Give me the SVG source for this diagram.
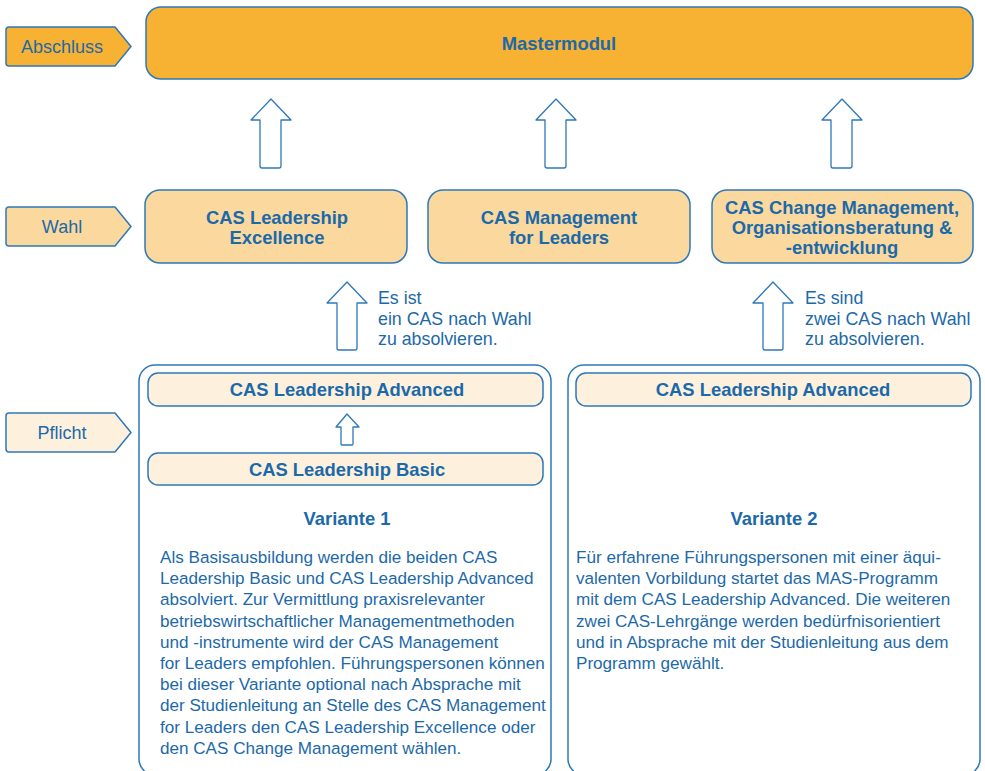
<svg xmlns="http://www.w3.org/2000/svg" width="985" height="771" viewBox="0 0 985 771">
<style>
.bg{fill:#ffffff}
.stroke{stroke:#2e78b8;stroke-width:1.5;stroke-linejoin:round}
.orange{fill:#f7b234}
.light{fill:#fbd99e}
.pale{fill:#fdf1de}
.white{fill:#ffffff}
text{font-family:"Liberation Sans",Arial,Helvetica,sans-serif;fill:#1c69a9}
.b{font-weight:bold;font-size:18.4px}
.tag{font-size:18px}
.note{font-size:17.8px}
.para{font-size:17.1px}
.mid{text-anchor:middle}
.arrow{fill:#ffffff;stroke:#2e78b8;stroke-width:1.3;stroke-linejoin:round}
</style>
<rect class="bg" x="0" y="0" width="985" height="771"/>

<g id="tag-abschluss">
<path class="orange stroke" d="M9,27 H115 L131,46.5 L115,66 H9 Q6,66 6,63 V30 Q6,27 9,27 Z"/>
<text class="tag mid" x="62" y="52.5">Abschluss</text>
</g>
<g id="tag-wahl">
<path class="light stroke" d="M9,207 H115 L131,226.5 L115,246 H9 Q6,246 6,243 V210 Q6,207 9,207 Z"/>
<text class="tag mid" x="62" y="232.5">Wahl</text>
</g>
<g id="tag-pflicht">
<path class="pale stroke" d="M9,413 H115 L131,432.5 L115,452 H9 Q6,452 6,449 V416 Q6,413 9,413 Z"/>
<text class="tag mid" x="62" y="438.5">Pflicht</text>
</g>

<g id="mastermodul">
<rect class="orange stroke" x="146" y="7" width="827" height="72" rx="15"/>
<text class="b mid" x="559" y="49.5">Mastermodul</text>
</g>

<g id="cas-leadership-excellence">
<rect class="light stroke" x="145" y="190" width="262" height="73" rx="15"/>
<text class="b mid" x="277" y="224">CAS Leadership</text>
<text class="b mid" x="277" y="244">Excellence</text>
</g>
<g id="cas-management-for-leaders">
<rect class="light stroke" x="428" y="190" width="262" height="73" rx="15"/>
<text class="b mid" x="559" y="224">CAS Management</text>
<text class="b mid" x="559" y="244">for Leaders</text>
</g>
<g id="cas-change-management">
<rect class="light stroke" x="712" y="190" width="261" height="73" rx="15"/>
<text class="b mid" x="842" y="213.5">CAS Change Management,</text>
<text class="b mid" x="842" y="233.5">Organisationsberatung &amp;</text>
<text class="b mid" x="842" y="253.5">-entwicklung</text>
</g>

<g id="variante-1">
<rect class="white stroke" x="139" y="365" width="412" height="410" rx="16"/>
<text class="b mid" x="347" y="525">Variante 1</text>
<text class="para" x="160">
<tspan x="160" y="563">Als Basisausbildung werden die beiden CAS</tspan>
<tspan x="160" y="584.2">Leadership Basic und CAS Leadership Advanced</tspan>
<tspan x="160" y="605.4">absolviert. Zur Vermittlung praxisrelevanter</tspan>
<tspan x="160" y="626.6">betriebswirtschaftlicher Managementmethoden</tspan>
<tspan x="160" y="647.8">und -instrumente wird der CAS Management</tspan>
<tspan x="160" y="669">for Leaders empfohlen. Führungspersonen können</tspan>
<tspan x="160" y="690.2">bei dieser Variante optional nach Absprache mit</tspan>
<tspan x="160" y="711.4">der Studienleitung an Stelle des CAS Management</tspan>
<tspan x="160" y="732.6">for Leaders den CAS Leadership Excellence oder</tspan>
<tspan x="160" y="753.8">den CAS Change Management wählen.</tspan>
</text>
</g>
<g id="v1-cas-leadership-advanced">
<rect class="pale stroke" x="148" y="373" width="395" height="33" rx="10"/>
<text class="b mid" x="347" y="396">CAS Leadership Advanced</text>
</g>
<g id="v1-cas-leadership-basic">
<rect class="pale stroke" x="148" y="453" width="395" height="32" rx="10"/>
<text class="b mid" x="347" y="476">CAS Leadership Basic</text>
</g>

<g id="variante-2">
<rect class="white stroke" x="568" y="365" width="412" height="410" rx="16"/>
<text class="b mid" x="774" y="525">Variante 2</text>
<text class="para" x="576">
<tspan x="576" y="563">Für erfahrene Führungspersonen mit einer äqui-</tspan>
<tspan x="576" y="584.2">valenten Vorbildung startet das MAS-Programm</tspan>
<tspan x="576" y="605.4">mit dem CAS Leadership Advanced. Die weiteren</tspan>
<tspan x="576" y="626.6">zwei CAS-Lehrgänge werden bedürfnisorientiert</tspan>
<tspan x="576" y="647.8">und in Absprache mit der Studienleitung aus dem</tspan>
<tspan x="576" y="669">Programm gewählt.</tspan>
</text>
</g>
<g id="v2-cas-leadership-advanced">
<rect class="pale stroke" x="576" y="373" width="395" height="33" rx="10"/>
<text class="b mid" x="773" y="396">CAS Leadership Advanced</text>
</g>

<g id="connectors">
<path class="arrow" d="M271,99 L291,120 H281 V166 Q281,168 279,168 H262 Q260,168 260,166 V120 H251 Z"/>
<path class="arrow" d="M556,99 L576,120 H566 V166 Q566,168 564,168 H547 Q545,168 545,166 V120 H536 Z"/>
<path class="arrow" d="M842,99 L862,120 H852 V166 Q852,168 850,168 H833 Q831,168 831,166 V120 H822 Z"/>
<path class="arrow" d="M347,282 L367,303 H357 V348 Q357,350 355,350 H339 Q337,350 337,348 V303 H327 Z"/>
<path class="arrow" d="M773,282 L793,303 H783 V348 Q783,350 781,350 H765 Q763,350 763,348 V303 H753 Z"/>
<path class="arrow" d="M347,414 L359,427 H353 V444 Q353,445 352,445 H342 Q341,445 341,444 V427 H336 Z"/>
<text class="note" x="378">
<tspan x="378" y="304">Es ist</tspan>
<tspan x="378" y="324.5">ein CAS nach Wahl</tspan>
<tspan x="378" y="345">zu absolvieren.</tspan>
</text>
<text class="note" x="805">
<tspan x="805" y="304">Es sind</tspan>
<tspan x="805" y="324.5">zwei CAS nach Wahl</tspan>
<tspan x="805" y="345">zu absolvieren.</tspan>
</text>
</g>
</svg>
